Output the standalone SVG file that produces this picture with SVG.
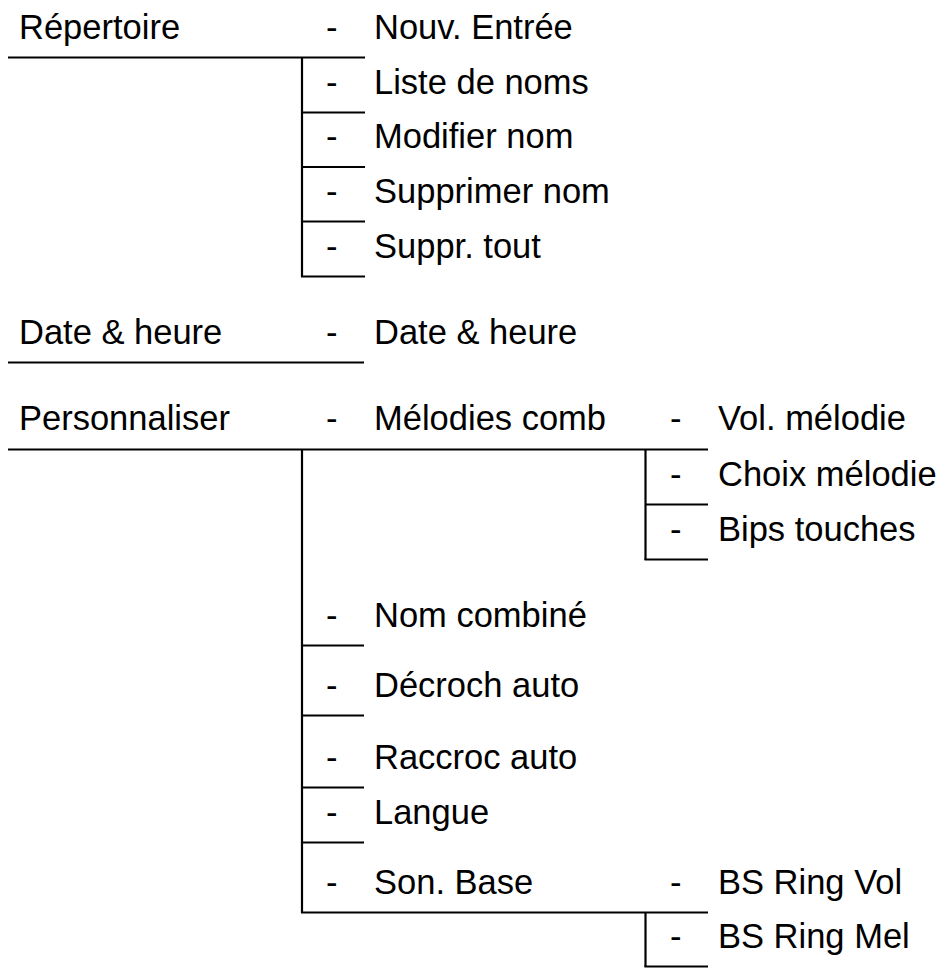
<svg xmlns="http://www.w3.org/2000/svg" width="951" height="970" viewBox="0 0 951 970">
<style>
text{font-family:"Liberation Sans",Arial,sans-serif;font-size:34.5px;fill:#000}
.c line{stroke:#000;stroke-width:2.2;fill:none}
</style>
<rect width="951" height="970" fill="#fff"/>
<g id="connectors" class="c">
<line x1="8" y1="57.5" x2="365" y2="57.5"/>
<line x1="302" y1="57.5" x2="302" y2="277"/>
<line x1="302" y1="112.5" x2="365" y2="112.5"/>
<line x1="302" y1="167" x2="365" y2="167"/>
<line x1="302" y1="221.5" x2="365" y2="221.5"/>
<line x1="301" y1="276.5" x2="365" y2="276.5"/>
<line x1="8" y1="362.5" x2="364" y2="362.5"/>
<line x1="8" y1="449.5" x2="708" y2="449.5"/>
<line x1="302" y1="449.5" x2="302" y2="913"/>
<line x1="645.5" y1="449.5" x2="645.5" y2="560"/>
<line x1="645.5" y1="504.5" x2="708" y2="504.5"/>
<line x1="644.5" y1="559.5" x2="708" y2="559.5"/>
<line x1="302" y1="645.5" x2="364" y2="645.5"/>
<line x1="302" y1="715.5" x2="364" y2="715.5"/>
<line x1="302" y1="787.5" x2="364" y2="787.5"/>
<line x1="302" y1="842.5" x2="364" y2="842.5"/>
<line x1="301" y1="912.5" x2="708" y2="912.5"/>
<line x1="645.5" y1="912.5" x2="645.5" y2="967"/>
<line x1="644.5" y1="966.5" x2="708" y2="966.5"/>
</g>
<g id="repertoire"><text x="19" y="39">Répertoire</text></g>
<g id="nouv-entree"><text x="326" y="39">-</text><text x="374" y="39">Nouv. Entrée</text></g>
<g id="liste-noms"><text x="326" y="94">-</text><text x="374" y="94">Liste de noms</text></g>
<g id="modifier-nom"><text x="326" y="148">-</text><text x="374" y="148">Modifier nom</text></g>
<g id="supprimer-nom"><text x="326" y="203">-</text><text x="374" y="203">Supprimer nom</text></g>
<g id="suppr-tout"><text x="326" y="258">-</text><text x="374" y="258">Suppr. tout</text></g>
<g id="date-heure"><text x="19" y="344">Date &amp; heure</text></g>
<g id="date-heure-sub"><text x="326" y="344">-</text><text x="374" y="344">Date &amp; heure</text></g>
<g id="personnaliser"><text x="19" y="430">Personnaliser</text></g>
<g id="melodies-comb"><text x="326" y="430">-</text><text x="374" y="430">Mélodies comb</text></g>
<g id="vol-melodie"><text x="670" y="430">-</text><text x="718" y="430">Vol. mélodie</text></g>
<g id="choix-melodie"><text x="670" y="486">-</text><text x="718" y="486">Choix mélodie</text></g>
<g id="bips-touches"><text x="670" y="541">-</text><text x="718" y="541">Bips touches</text></g>
<g id="nom-combine"><text x="326" y="627">-</text><text x="374" y="627">Nom combiné</text></g>
<g id="decroch-auto"><text x="326" y="697">-</text><text x="374" y="697">Décroch auto</text></g>
<g id="raccroc-auto"><text x="326" y="769">-</text><text x="374" y="769">Raccroc auto</text></g>
<g id="langue"><text x="326" y="824">-</text><text x="374" y="824">Langue</text></g>
<g id="son-base"><text x="326" y="894">-</text><text x="374" y="894">Son. Base</text></g>
<g id="bs-ring-vol"><text x="670" y="894">-</text><text x="718" y="894">BS Ring Vol</text></g>
<g id="bs-ring-mel"><text x="670" y="948">-</text><text x="718" y="948">BS Ring Mel</text></g>
</svg>
